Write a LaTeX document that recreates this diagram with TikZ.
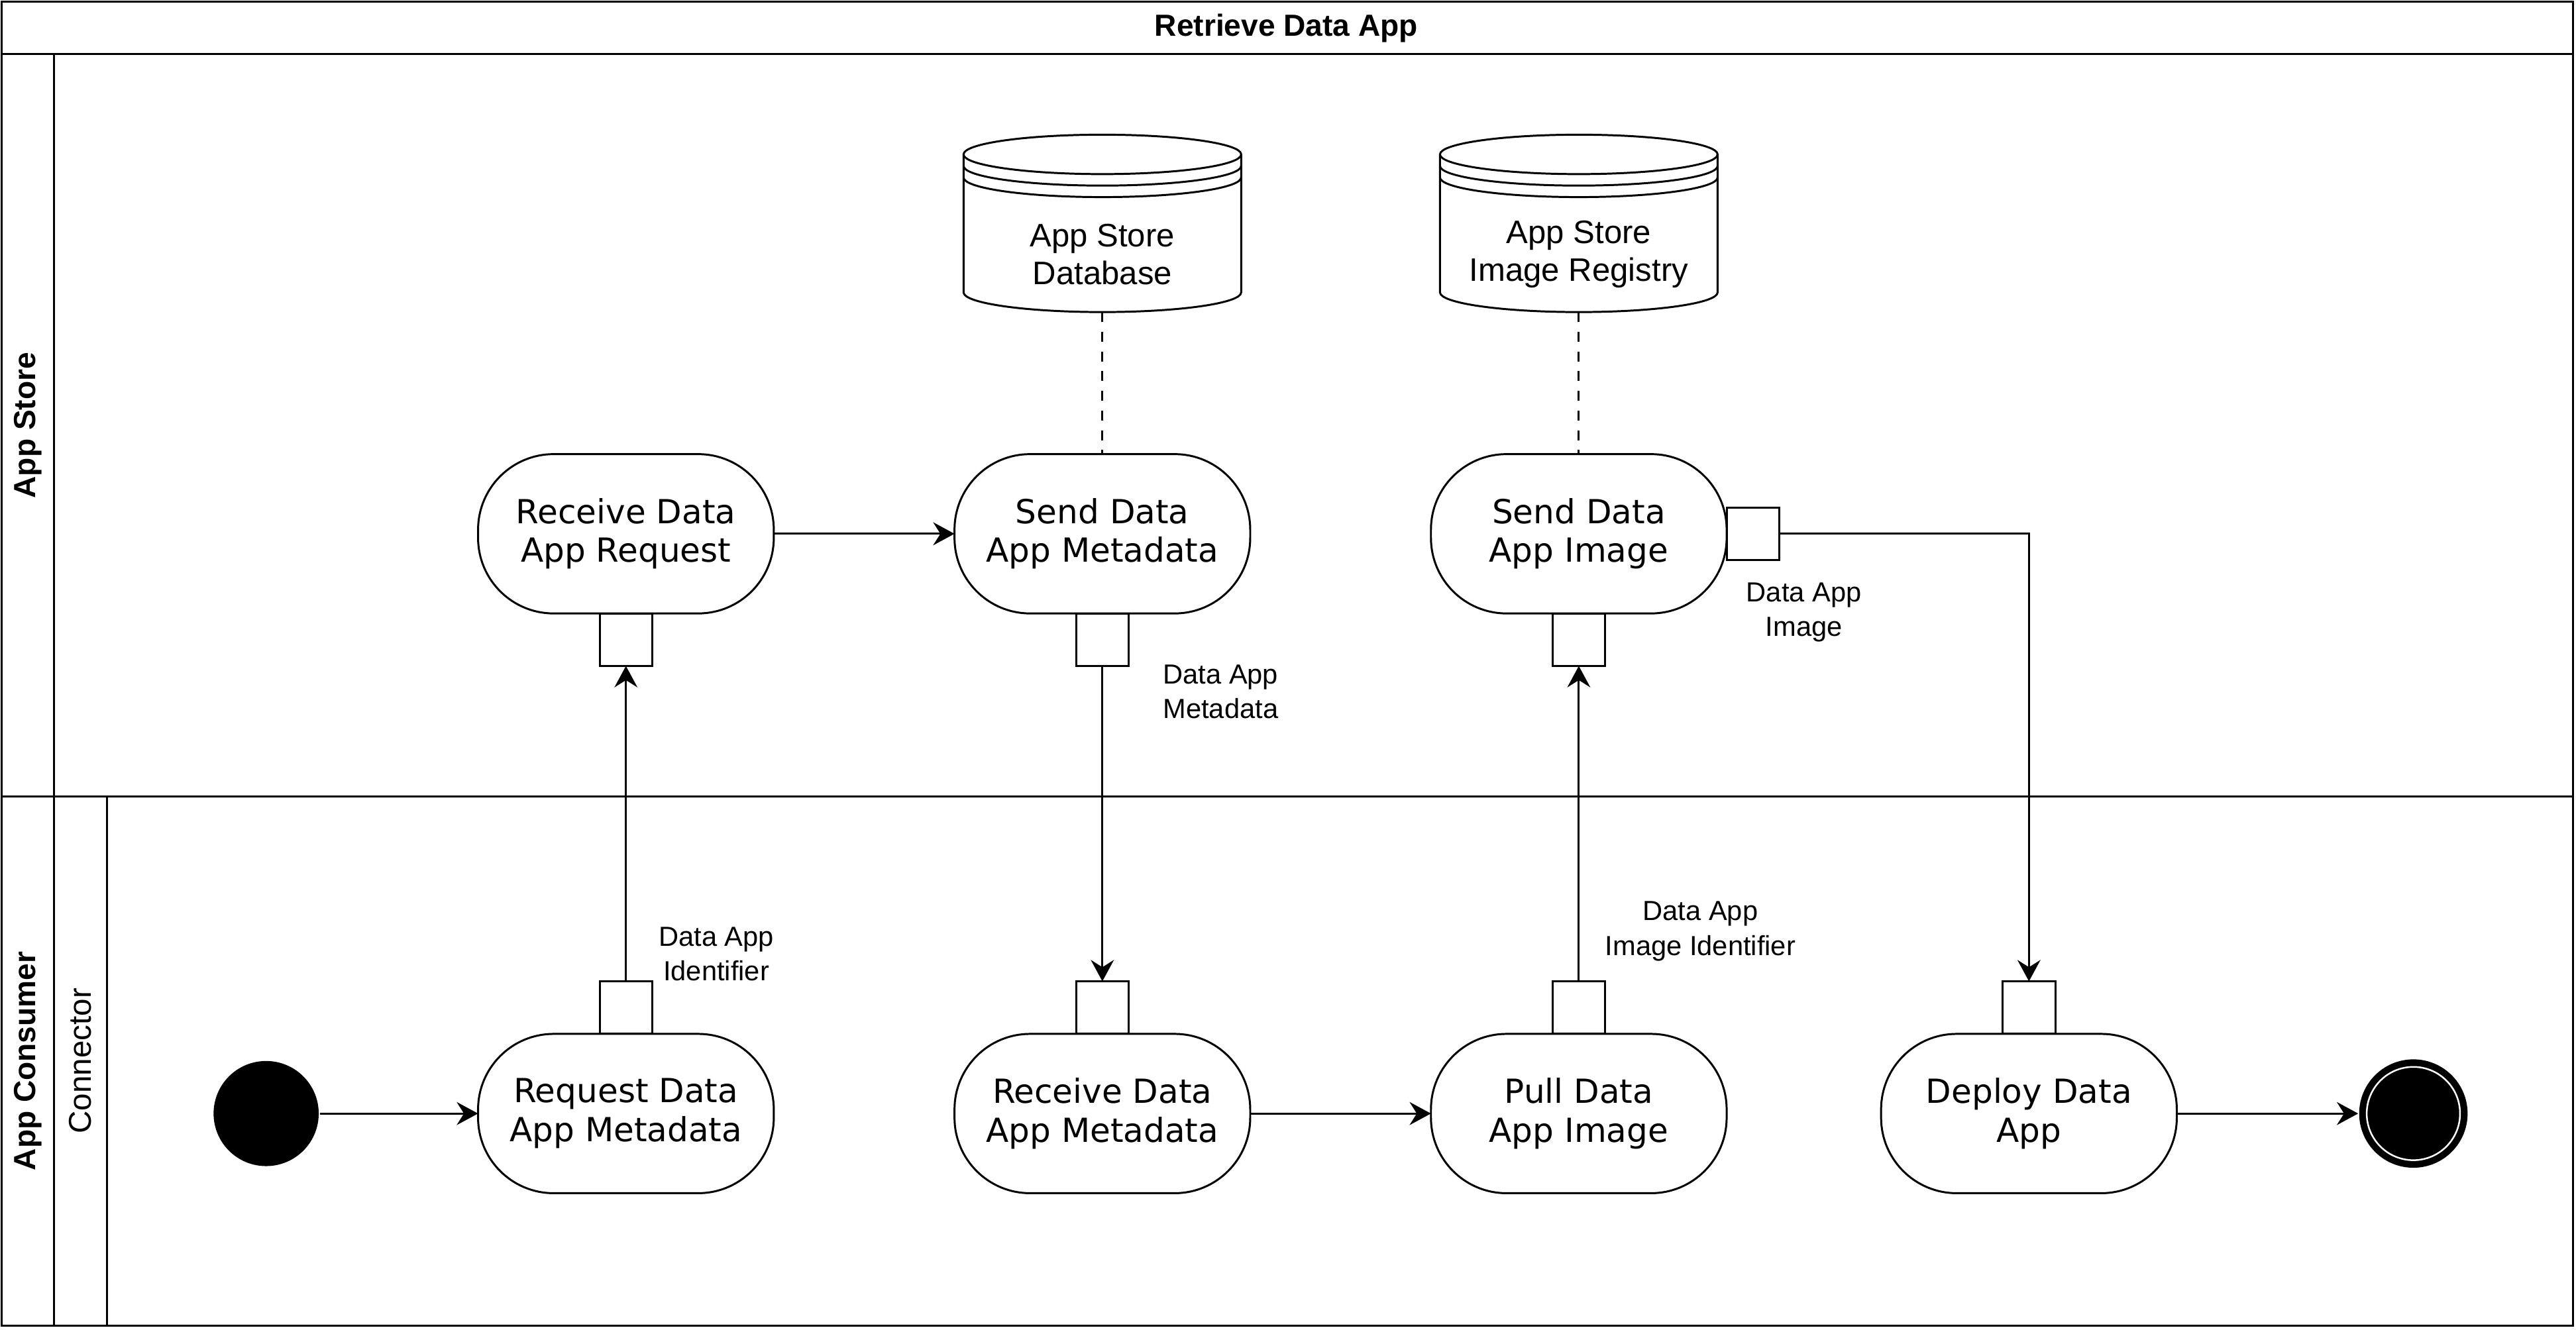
\documentclass[tikz,border=0pt]{standalone}
\usepackage{fontspec}
\setmainfont{Liberation Sans}
\newfontfamily\actfont{DejaVu Sans}
\usetikzlibrary{arrows.meta,calc}
\newcommand\cylshape[1]{%
  \draw ([yshift=-6pt]#1.north) ellipse[x radius=42.25pt,y radius=6pt];
  \draw ([yshift=-9.5pt]#1.north west) arc[start angle=180,end angle=360,x radius=42.25pt,y radius=6pt];
  \draw ([yshift=-13pt]#1.north west) arc[start angle=180,end angle=360,x radius=42.25pt,y radius=6pt];
  \draw ([yshift=-6pt]#1.north west) -- ([yshift=6pt]#1.south west)
    arc[start angle=180,end angle=360,x radius=42.25pt,y radius=6pt]
    -- ([yshift=-6pt]#1.north east);}
\begin{document}
\begin{tikzpicture}[x=0.5pt,y=-0.5pt,line width=0.6pt,
  act/.style={draw,rounded corners=23pt,minimum width=90pt,minimum height=48.5pt,
    inner sep=0pt,outer sep=0pt,align=center,
    font=\actfont\fontsize{10.1}{11.8}\selectfont,
    execute at begin node={\rule{0pt}{10.6pt}}},
  pin/.style={draw,fill=white,minimum size=16pt,inner sep=0pt,outer sep=0pt},
  lbl/.style={align=center,font=\fontsize{8.4}{10.5}\selectfont},
  dbshape/.style={minimum width=84.5pt,minimum height=54pt,inner sep=0pt,outer sep=0pt},
  dbtext/.style={align=center,font=\fontsize{9.9}{11.5}\selectfont},
  flow/.style={-{Stealth[length=6.5pt,width=7pt,inset=2.2pt]}},
  lane/.style={font=\bfseries\fontsize{9.3}{11}\selectfont},
  dotted line/.style={dash pattern=on 3pt off 3pt}]
\useasboundingbox (0,0) rectangle (1568,809.8);
% frame
\draw (1,1) rectangle (1566,807);
\draw (1,33) -- (1566,33);
\draw (33,33) -- (33,807);
\draw (1,485) -- (1566,485);
\draw (65,485) -- (65,807);
\node[lane] (title) at (783,17) {Retrieve Data App};
\node[lane,rotate=90] (lstore) at (17,259) {App Store};
\node[lane,rotate=90] (lcons) at (17,646) {App Consumer};
\node[font=\fontsize{9.6}{12}\selectfont,rotate=90] (lconn) at (49,646) {Connector};
% activities
\node[act] (recv) at (381,325) {Receive Data\\App Request};
\node[act] (sendmeta) at (671,325) {Send Data\\App Metadata};
\node[act] (sendimg) at (961,325) {Send Data\\App Image};
\node[act] (reqmeta) at (381,678) {Request Data\\App Metadata};
\node[act] (recvmeta) at (671,678) {Receive Data\\App Metadata};
\node[act] (pull) at (961,678) {Pull Data\\App Image};
\node[act] (deploy) at (1235,678) {Deploy Data\\App};
% pins
\node[pin,anchor=north] (p1) at (recv.south) {};
\node[pin,anchor=north] (p2) at (sendmeta.south) {};
\node[pin,anchor=north] (p3) at (sendimg.south) {};
\node[pin,anchor=west] (p4) at (sendimg.east) {};
\node[pin,anchor=south] (p5) at (reqmeta.north) {};
\node[pin,anchor=south] (p6) at (recvmeta.north) {};
\node[pin,anchor=south] (p7) at (pull.north) {};
\node[pin,anchor=south] (p8) at (deploy.north) {};
% databases
\node[dbshape] (db1) at (671,136) {};
\node[dbshape] (db2) at (961,136) {};
\cylshape{db1}
\cylshape{db2}
\node[dbtext] (db1t) at ([yshift=-9.5pt]db1.center) {App Store\\Database};
\node[dbtext] (db2t) at ([yshift=-9.5pt]db2.center) {App Store\\Image Registry};
% initial / final
\node[circle,fill=black,minimum size=32pt,inner sep=0pt] (init) at (162,678) {};
\node[circle,fill=black,minimum size=33pt,inner sep=0pt] (final) at (1469,678) {};
\draw[white,line width=0.5pt] (final.center) circle[radius=14.2pt];
% connectors
\draw[dotted line] (db1.south) -- (sendmeta.north);
\draw[dotted line] (db2.south) -- (sendimg.north);
\draw[flow] (recv) -- (sendmeta);
\draw[flow] (p5) -- (p1);
\draw[flow] (p2) -- (p6);
\draw[flow] (p7) -- (p3);
\draw[flow] (p4.east) -| (p8.north);
\draw[flow] (init) -- (reqmeta);
\draw[flow] (recvmeta) -- (pull);
\draw[flow] (deploy) -- (final);
% labels
\node[lbl] (l1) at (436,581) {Data App\\Identifier};
\node[lbl] (l2) at (743,421) {Data App\\Metadata};
\node[lbl] (l3) at (1035,567) {Data App\\Image Identifier};
\node[lbl] (l4) at (1098,373) {Data App\\Image};
\end{tikzpicture}
\end{document}
